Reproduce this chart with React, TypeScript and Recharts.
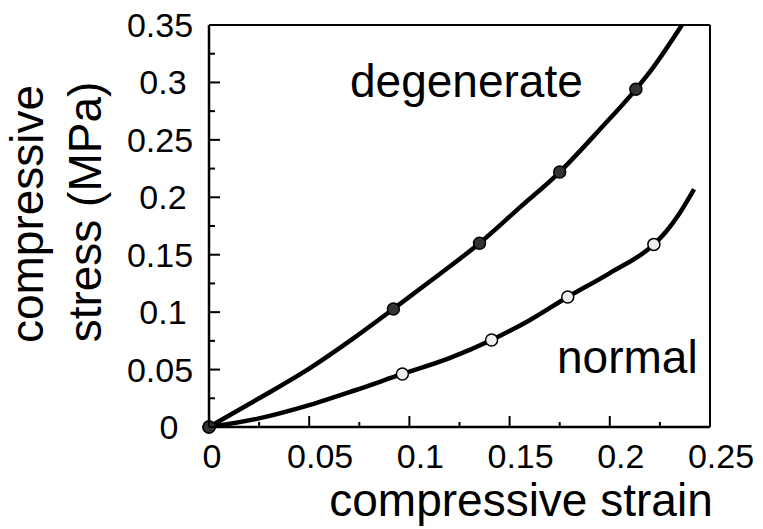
import { ComposedChart, Line, Scatter, XAxis, YAxis, ReferenceLine } from "recharts";

const FONT = "'Liberation Sans', Arial, sans-serif";

// curves (strain, stress)
const degenerateCurve = [
  { x: 0, y: 0 },
  { x: 0.025, y: 0.025 },
  { x: 0.049, y: 0.0497 },
  { x: 0.0715, y: 0.0765 },
  { x: 0.092, y: 0.1028 },
  { x: 0.115, y: 0.133 },
  { x: 0.135, y: 0.16 },
  { x: 0.155, y: 0.191 },
  { x: 0.175, y: 0.222 },
  { x: 0.195, y: 0.259 },
  { x: 0.213, y: 0.294 },
  { x: 0.2195, y: 0.308 },
  { x: 0.236, y: 0.35 },
];

const normalCurve = [
  { x: 0, y: 0 },
  { x: 0.025, y: 0.0075 },
  { x: 0.05, y: 0.019 },
  { x: 0.073, y: 0.032 },
  { x: 0.0965, y: 0.0462 },
  { x: 0.12, y: 0.06 },
  { x: 0.141, y: 0.0758 },
  { x: 0.16, y: 0.093 },
  { x: 0.179, y: 0.1132 },
  { x: 0.2, y: 0.134 },
  { x: 0.222, y: 0.159 },
  { x: 0.228, y: 0.17 },
  { x: 0.234, y: 0.184 },
  { x: 0.242, y: 0.207 },
];

// measured points
const degenerateDots = [
  { x: 0, y: 0 },
  { x: 0.092, y: 0.1028 },
  { x: 0.135, y: 0.16 },
  { x: 0.175, y: 0.222 },
  { x: 0.213, y: 0.294 },
];
const normalDots = [
  { x: 0, y: 0 },
  { x: 0.0965, y: 0.0462 },
  { x: 0.141, y: 0.0758 },
  { x: 0.179, y: 0.1132 },
  { x: 0.222, y: 0.159 },
];

const xTicks = [0, 0.025, 0.05, 0.075, 0.1, 0.125, 0.15, 0.175, 0.2, 0.225, 0.25];
const xLabels = ["0", "", "0.05", "", "0.1", "", "0.15", "", "0.2", "", "0.25"];
const yTicks = [0, 0.025, 0.05, 0.075, 0.1, 0.125, 0.15, 0.175, 0.2, 0.225, 0.25, 0.275, 0.3, 0.325, 0.35];
const yLabels = ["0", "", "0.05", "", "0.1", "", "0.15", "", "0.2", "", "0.25", "", "0.3", "", "0.35"];

function XTick(props: any) {
  const { x, y, index } = props;
  const label = xLabels[index];
  const len = label ? 11 : 5;
  return (
    <g>
      <line x1={x} y1={y} x2={x} y2={y - len} stroke="#000" strokeWidth={2} />
      {label && (
        <text x={x + (label === "0" ? 3 : 11)} y={y + 41} textAnchor="middle" fontSize={34} fontFamily={FONT} fill="#000">
          {label}
        </text>
      )}
    </g>
  );
}

function YTick(props: any) {
  const { x, y, index } = props;
  const label = yLabels[index];
  const len = label ? 11 : 6;
  return (
    <g>
      <line x1={x} y1={y} x2={x + len} y2={y} stroke="#000" strokeWidth={2} />
      {label && (
        <text x={169 - (label.length - 1) * 3} y={y + 12} textAnchor="middle" fontSize={34} fontFamily={FONT} fill="#000">
          {label}
        </text>
      )}
    </g>
  );
}

const darkDot = (p: any) => <circle cx={p.cx} cy={p.cy} r={6} fill="#333" stroke="#000" strokeWidth={1.5} />;
const lightDot = (p: any) => <circle cx={p.cx} cy={p.cy} r={6} fill="#eee" stroke="#000" strokeWidth={1.5} />;

export default function App() {
  return (
    <div style={{ position: "absolute", left: 0, top: 0, background: "#fff" }}>
      <ComposedChart width={763} height={529} margin={{ top: 25, right: 53, bottom: 42, left: 109 }}>
        <XAxis
          type="number"
          dataKey="x"
          domain={[0, 0.25]}
          ticks={xTicks}
          interval={0}
          height={60}
          tickSize={0}
          tickMargin={0}
          tickLine={false}
          axisLine={{ stroke: "#000", strokeWidth: 2.5 }}
          tick={<XTick />}
        />
        <YAxis
          type="number"
          dataKey="y"
          domain={[0, 0.35]}
          ticks={yTicks}
          interval={0}
          width={100}
          tickSize={0}
          tickMargin={0}
          tickLine={false}
          axisLine={{ stroke: "#000", strokeWidth: 2.5 }}
          tick={<YTick />}
        />
        <ReferenceLine y={0.35} stroke="#000" strokeWidth={2} />
        <ReferenceLine x={0.25} stroke="#000" strokeWidth={2} />
        <Line data={normalCurve} dataKey="y" type="monotone" stroke="#000" strokeWidth={4.5} dot={false} isAnimationActive={false} />
        <Line data={degenerateCurve} dataKey="y" type="monotone" stroke="#000" strokeWidth={4.5} dot={false} isAnimationActive={false} />
        <Scatter data={normalDots} dataKey="y" shape={lightDot} isAnimationActive={false} />
        <Scatter data={degenerateDots} dataKey="y" shape={darkDot} isAnimationActive={false} />
        <text x={350} y={97} fontSize={46} fontFamily={FONT} fill="#000">degenerate</text>
        <text x={557} y={373} fontSize={46} fontFamily={FONT} fill="#000">normal</text>
        <text x={521} y={516} textAnchor="middle" fontSize={46} fontFamily={FONT} fill="#000">compressive strain</text>
        <text x={43} y={214} transform="rotate(-90 43 214)" textAnchor="middle" fontSize={46} fontFamily={FONT} fill="#000">compressive</text>
        <text x={101} y={212} transform="rotate(-90 101 212)" textAnchor="middle" fontSize={46} fontFamily={FONT} fill="#000">stress (MPa)</text>
      </ComposedChart>
    </div>
  );
}
